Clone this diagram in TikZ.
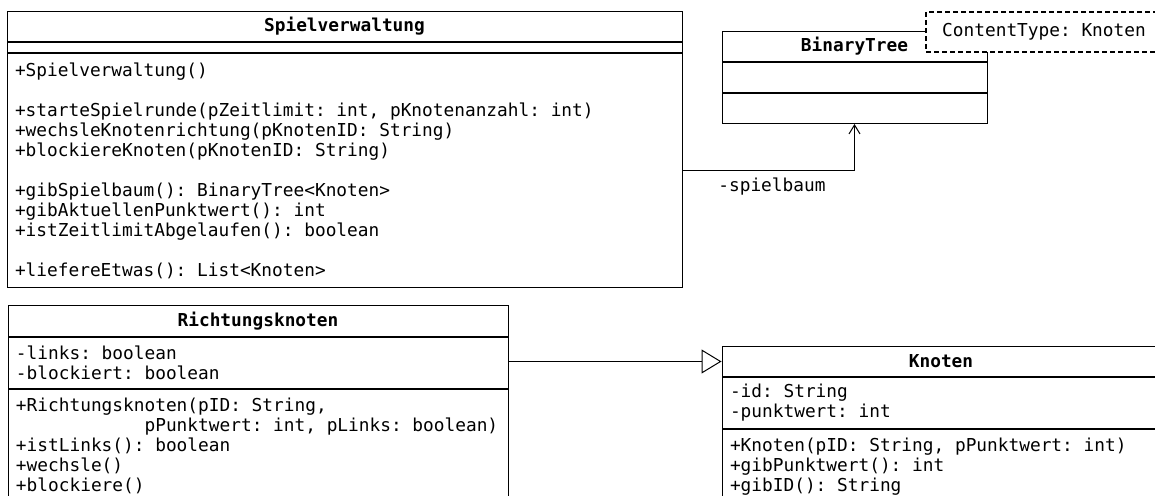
\documentclass[tikz,border=0pt]{standalone}
\usepackage{fontspec}
\newfontfamily\umlfont{DejaVu Sans Mono}
\usetikzlibrary{positioning,arrows.meta}
% feste Breite fuer Leerzeichen
\newcommand{\umlschrift}{\umlfont\fontsize{8.9}{10}\selectfont\fontdimen2\font=5.36pt\fontdimen3\font=0pt\fontdimen4\font=0pt\frenchspacing}

\tikzset{
  kopf/.style={draw, anchor=north, minimum height=15pt, inner sep=0pt, font=\umlfont\bfseries\fontsize{8.9}{10}\selectfont},
  teil/.style={draw, anchor=north, align=flush left, inner xsep=4pt, inner ysep=0pt, font=\umlschrift},
  assoz/.style={-{Straight Barb[length=4.5pt,width=5.5pt]}},
  erbt/.style={-{Triangle[open,length=10pt,width=12pt,fill=white]}},
}

\begin{document}
\begin{tikzpicture}[x=0.5pt,y=-0.5pt,line width=0.5pt]
\useasboundingbox (0,0) rectangle (1155,496);
\clip (0,0) rectangle (1155,496);
% Spielverwaltung
\node[kopf, minimum width=337.5pt] (sv) at (344.5,11) {Spielverwaltung};
\node[teil, text width=329.5pt, minimum height=5pt, below=0pt of sv] (sv-a) {};
\node[teil, text width=329.5pt, minimum height=117pt, below=0pt of sv-a] (sv-m)
  {+Spielverwaltung()\\[10pt]
   +starteSpielrunde(pZeitlimit: int, pKnotenanzahl: int)\\
   +wechsleKnotenrichtung(pKnotenID: String)\\
   +blockiereKnoten(pKnotenID: String)\\[10pt]
   +gibSpielbaum(): BinaryTree<Knoten>\\
   +gibAktuellenPunktwert(): int\\
   +istZeitlimitAbgelaufen(): boolean\\[10pt]
   +liefereEtwas(): List<Knoten>};
% BinaryTree
\node[kopf, minimum width=132.5pt] (bt) at (854.5,31) {BinaryTree};
\node[teil, text width=124.5pt, minimum height=15pt, below=0pt of bt] (bt-a) {};
\node[teil, text width=124.5pt, minimum height=15pt, below=0pt of bt-a] (bt-m) {};
\node[draw, dash pattern=on 2.5pt off 1.5pt, line width=1pt, fill=white, anchor=north west,
  minimum width=118pt, minimum height=20pt, font=\umlschrift] (typ) at (925,11) {ContentType: Knoten};
% Richtungsknoten
\node[kopf, minimum width=250pt, minimum height=15.5pt] (rk) at (258,305) {Richtungsknoten};
\node[teil, text width=242pt, minimum height=25.5pt, below=0pt of rk] (rk-a)
  {-links: boolean\\ -blockiert: boolean};
\node[teil, text width=242pt, minimum height=56pt, below=0pt of rk-a] (rk-m)
  {+Richtungsknoten(pID: String,\\
   \phantom{+Richtungskn}pPunktwert: int, pLinks: boolean)\\
   +istLinks(): boolean\\
   +wechsle()\\
   +blockiere()};
% Knoten
\node[kopf, minimum width=219pt] (kn) at (941,346) {Knoten};
\node[teil, text width=211pt, minimum height=25.5pt, below=0pt of kn] (kn-a)
  {-id: String\\ -punktwert: int};
\node[teil, text width=211pt, minimum height=37pt, below=0pt of kn-a] (kn-m)
  {+Knoten(pID: String, pPunktwert: int)\\
   +gibPunktwert(): int\\
   +gibID(): String};
% Beziehungen
\draw[assoz] (sv-m.east) -| node[pos=0.26, below, font=\umlschrift] {-spielbaum} (bt-m.south);
\draw[erbt] (rk-a.east |- kn.west) -- (kn.west);
\end{tikzpicture}
\end{document}
